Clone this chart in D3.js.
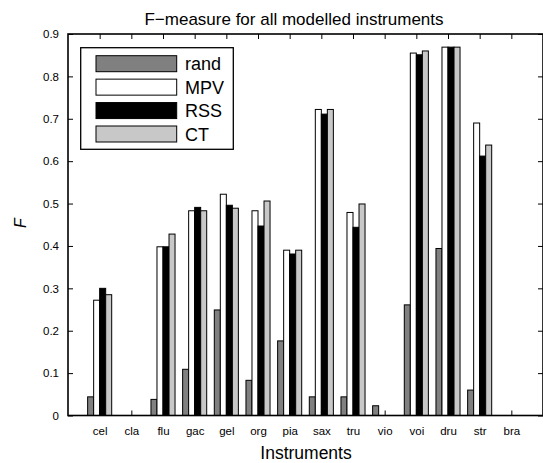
<!DOCTYPE html>
<html>
<head>
<meta charset="utf-8">
<script src="https://cdn.jsdelivr.net/npm/d3@7"></script>
<style>
  body { margin: 0; background: #fff; }
  svg { display: block; font-family: "Liberation Sans", Arial, Helvetica, sans-serif; }
</style>
</head>
<body>
<div id="content"></div>
<script>
const instruments = ['cel', 'cla', 'flu', 'gac', 'gel', 'org', 'pia', 'sax', 'tru', 'vio', 'voi', 'dru', 'str', 'bra']
const seriesNames = ['rand', 'MPV', 'RSS', 'CT']
const randValues = [0.044, 0, 0.038, 0.109, 0.249, 0.083, 0.176, 0.044, 0.044, 0.023, 0.261, 0.394, 0.060, 0]
const mpvValues = [0.272, 0, 0.398, 0.483, 0.522, 0.483, 0.390, 0.722, 0.479, 0, 0.855, 0.869, 0.690, 0]
const rssValues = [0.300, 0, 0.398, 0.491, 0.496, 0.447, 0.381, 0.711, 0.444, 0, 0.851, 0.869, 0.612, 0]
const ctValues = [0.285, 0, 0.428, 0.483, 0.489, 0.506, 0.390, 0.722, 0.499, 0, 0.860, 0.869, 0.638, 0]
const yTicks = [0, 0.1, 0.2, 0.3, 0.4, 0.5, 0.6, 0.7, 0.8, 0.9]
const fills = ['#808080', '#ffffff', '#000000', '#c8c8c8']

const width = 543
const height = 463
const plotLeft = 68, plotRight = 543, plotTop = 34, plotBottom = 415.5
const barW = 0.19

const allSeries = [randValues, mpvValues, rssValues, ctValues]

const svg = d3.select('#content')
    .append('svg')
    .attr('width', width)
    .attr('height', height)

const scaleX = d3.scaleLinear().domain([0, 15]).range([plotLeft, plotRight])
const scaleY = d3.scaleLinear().domain([0, 0.9]).range([plotBottom, plotTop])

// bars
const bars = []
instruments.forEach((name, i) => {
    allSeries.forEach((vals, s) => {
        bars.push({ pos: i + 1, s: s, value: vals[i] })
    })
})

svg.append('g')
    .selectAll('rect')
    .data(bars.filter(d => d.value > 0))
    .join('rect')
    .attr('x', d => scaleX(d.pos + (d.s - 2) * barW))
    .attr('width', d => scaleX(barW) - scaleX(0))
    .attr('y', d => scaleY(d.value))
    .attr('height', d => scaleY(0) - scaleY(d.value))
    .attr('fill', d => fills[d.s])
    .attr('stroke', '#000')
    .attr('stroke-width', 1)

// axes, ticks inward on all four sides
const tickLen = 5
const xTickVals = d3.range(1, 15)

const yAxis = svg.append('g')
    .attr('transform', `translate(${plotLeft},0)`)
    .call(d3.axisLeft(scaleY).tickValues(yTicks).tickSize(-tickLen).tickPadding(9)
        .tickFormat(d => d === 0 ? '0' : d3.format('.1f')(d)))
yAxis.select('.domain').remove()

const yAxisR = svg.append('g')
    .attr('transform', `translate(${plotRight},0)`)
    .call(d3.axisRight(scaleY).tickValues(yTicks).tickSize(-tickLen).tickFormat(''))
yAxisR.select('.domain').remove()

const xAxis = svg.append('g')
    .attr('transform', `translate(0,${plotBottom})`)
    .call(d3.axisBottom(scaleX).tickValues(xTickVals).tickSize(-tickLen).tickPadding(11)
        .tickFormat(d => instruments[d - 1]))
xAxis.select('.domain').remove()

const xAxisT = svg.append('g')
    .attr('transform', `translate(0,${plotTop})`)
    .call(d3.axisTop(scaleX).tickValues(xTickVals).tickSize(-tickLen).tickFormat(''))
xAxisT.select('.domain').remove()

svg.selectAll('.tick line').attr('stroke', '#000').attr('stroke-width', 1)
svg.selectAll('.tick text')
    .attr('font-size', 11.5)
    .attr('font-family', '"Liberation Sans", Arial, Helvetica, sans-serif')
    .attr('fill', '#000')

// box
svg.append('rect')
    .attr('x', plotLeft)
    .attr('y', plotTop)
    .attr('width', plotRight - plotLeft)
    .attr('height', plotBottom - plotTop)
    .attr('fill', 'none')
    .attr('stroke', '#000')
    .attr('stroke-width', 1.6)

// labels
svg.append('text')
    .text('F\u2212measure for all modelled instruments')
    .attr('x', 294)
    .attr('y', 25)
    .attr('text-anchor', 'middle')
    .attr('font-size', 17)

svg.append('text')
    .text('Instruments')
    .attr('x', 306)
    .attr('y', 459)
    .attr('text-anchor', 'middle')
    .attr('font-size', 17.5)

svg.append('text')
    .text('F')
    .attr('transform', `translate(26,223) rotate(-90)`)
    .attr('text-anchor', 'middle')
    .attr('font-size', 16)
    .attr('font-style', 'italic')

// legend
svg.append('rect')
    .attr('x', 80.7)
    .attr('y', 47.7)
    .attr('width', 152.6)
    .attr('height', 101.6)
    .attr('fill', '#fff')
    .attr('stroke', '#000')
    .attr('stroke-width', 1.3)

const rowY = d3.scaleLinear().domain([0, 3]).range([63.7, 134])
const legendRows = svg.append('g')
    .selectAll('g')
    .data(seriesNames)
    .join('g')
    .attr('transform', (d, i) => `translate(0,${rowY(i)})`)

legendRows.append('rect')
    .attr('x', 96)
    .attr('y', -8)
    .attr('width', 80.7)
    .attr('height', 16)
    .attr('fill', (d, i) => fills[i])
    .attr('stroke', '#000')
    .attr('stroke-width', 1)

legendRows.append('text')
    .text(d => d)
    .attr('x', 185)
    .attr('y', 6.5)
    .attr('font-size', 18)
</script>
</body>
</html>
